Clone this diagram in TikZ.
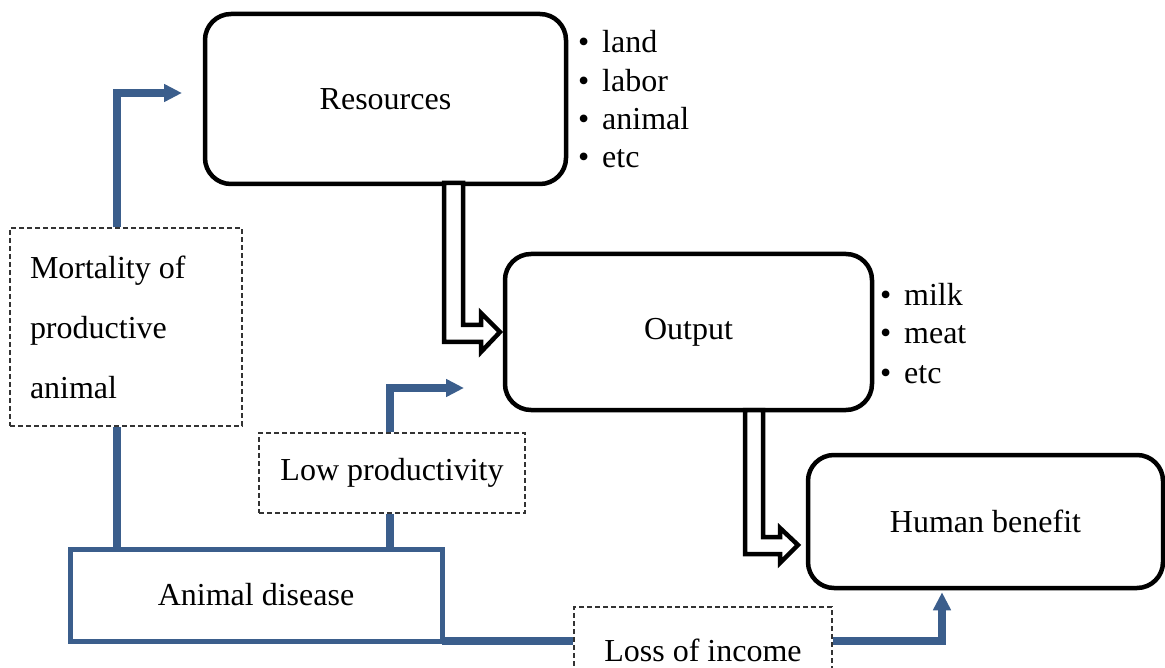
\documentclass[tikz,border=0pt]{standalone}
\usepackage{fontspec}
\setmainfont{Liberation Serif}
\usetikzlibrary{arrows.meta}
\definecolor{flowblue}{RGB}{59,94,140}
\begin{document}
\begin{tikzpicture}[x=1pt,y=-1pt,
  txt/.style={font=\fontsize{32}{38.5}\selectfont},
  mainbox/.style={draw, line width=4.5pt, rounded corners=26pt, txt, inner sep=0pt},
  effectbox/.style={draw=black!80, line width=1.2pt, dash pattern=on 5pt off 3pt, txt, inner sep=0pt},
  diseasebox/.style={draw=flowblue, line width=5pt, txt, inner sep=0pt, outer sep=0pt},
  flow/.style={draw=flowblue, line width=8.5pt, line join=miter},
  flowarrow/.style={flow, -{Triangle[length=18pt,width=17pt]}},
  hollow/.style={draw, line width=4.5pt, fill=white, line join=miter},
  item/.style={txt, anchor=base west, inner sep=0pt}
]
\useasboundingbox (0,0) rectangle (1165,668);

% main chain
\node[mainbox, minimum width=361pt, minimum height=170pt] (res) at (385.5,99) {Resources};
\node[mainbox, minimum width=367pt, minimum height=156pt] (out) at (688.5,332) {Output};
\node[mainbox, minimum width=355pt, minimum height=133pt] (hb) at (985.5,521.5) {Human benefit};

% resource list
\node[item] (r1) at (578,53)  {\makebox[24pt][l]{•}land};
\node[item] (r2) at (578,92)  {\makebox[24pt][l]{•}labor};
\node[item] (r3) at (578,130) {\makebox[24pt][l]{•}animal};
\node[item] (r4) at (578,168) {\makebox[24pt][l]{•}etc};

% output list
\node[item] (o1) at (880,306) {\makebox[24pt][l]{•}milk};
\node[item] (o2) at (880,344) {\makebox[24pt][l]{•}meat};
\node[item] (o3) at (880,383) {\makebox[24pt][l]{•}etc};

% disease and its effects
\node[diseasebox, minimum width=372pt, minimum height=92pt] (anim) at (256,595) {Animal disease};
\node[effectbox, text width=192pt, align=flush left, inner xsep=20pt, minimum height=198pt,
      font=\fontsize{32}{60}\selectfont] (mort) at (126,327) {Mortality of\\productive\\animal};
\node[effectbox, minimum width=266pt, minimum height=80pt] (low) at (392,473) {Low productivity};
\node[effectbox, minimum width=258pt, minimum height=86pt] (loss) at (703,650) {Loss of income};

% hollow bent arrows between the main boxes
\draw[hollow] (444,183) -- (444,342) -- (481,342) -- (481,352) -- (500,332)
  -- (481,313) -- (481,325) -- (463,325) -- (463,183) -- cycle;
\draw[hollow] (745,410) -- (745,554) -- (780,554) -- (780,563) -- (798,545)
  -- (780,528) -- (780,537) -- (763,537) -- (763,410) -- cycle;

% effect paths
\coordinate (mx) at (117,0);
\coordinate (mtip) at (182,93);
\draw[flow] (anim.north -| mx) -- (mort.south -| mx);
\draw[flowarrow] (mort.north -| mx) |- (mtip);

\coordinate (px) at (390,0);
\coordinate (ptip) at (464,388);
\draw[flow] (anim.north -| px) -- (low.south -| px);
\draw[flowarrow] (low.north -| px) |- (ptip);

\coordinate (lx) at (942,0);
\draw[flow] (anim.south east) -- (anim.south east -| loss.west);
\draw[flowarrow, shorten >=2pt] (anim.south east -| loss.east) -| (hb.south -| lx);
\end{tikzpicture}
\end{document}
